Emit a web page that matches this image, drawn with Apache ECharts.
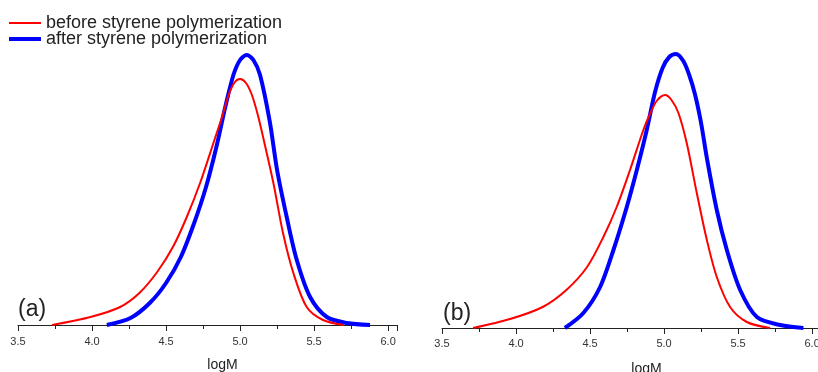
<!DOCTYPE html>
<html>
<head>
<meta charset="utf-8">
<script src="https://cdn.jsdelivr.net/npm/echarts@6/dist/echarts.min.js"></script>
<style>
  html, body { margin: 0; padding: 0; background: #fff; }
  #chart { width: 818px; height: 372px; }
</style>
</head>
<body>
<div id="chart"></div>
<script>
// panel (a)
const aLogMBefore = [3.73, 3.99, 4.19, 4.32, 4.44, 4.55, 4.64, 4.73, 4.82, 4.88, 4.925, 4.965, 5.0, 5.04, 5.08, 5.12, 5.16, 5.225, 5.29, 5.36, 5.45, 5.56, 5.70];
const aBefore = [0, 8, 18, 32, 53, 79, 108, 142, 182, 209, 231, 243, 246, 242, 230, 210, 185, 142, 92, 52, 18, 5, 0];
const aLogMAfter = [4.10, 4.26, 4.39, 4.50, 4.60, 4.69, 4.77, 4.84, 4.90, 4.955, 5.0, 5.045, 5.09, 5.135, 5.20, 5.25, 5.315, 5.383, 5.473, 5.586, 5.721, 5.878];
const aAfter = [0, 7, 22, 42, 68, 102, 138, 178, 218, 250, 265, 270, 265, 250, 204, 155, 108, 65, 28, 8, 2, 0];

// panel (b)
const bLogMBefore = [3.71, 3.96, 4.18, 4.34, 4.48, 4.59, 4.68, 4.77, 4.86, 4.905, 4.95, 5.007, 5.05, 5.097, 5.153, 5.221, 5.289, 5.356, 5.446, 5.559, 5.716];
const bBefore = [0, 9, 21, 38, 61, 91, 121, 158, 198, 214, 227, 233, 228, 215, 185, 135, 88, 51, 21, 6, 0];
const bLogMAfter = [4.33, 4.455, 4.568, 4.658, 4.748, 4.816, 4.883, 4.939, 4.99, 5.035, 5.081, 5.13, 5.17, 5.21, 5.25, 5.289, 5.356, 5.424, 5.514, 5.627, 5.784, 5.941];
const bAfter = [0, 15, 41, 78, 121, 158, 198, 236, 260, 271, 274, 267, 253, 233, 205, 170, 118, 78, 38, 11, 3, 0];

const seriesNames = ["before styrene polymerization", "after styrene polymerization"];
const panelLabels = ["(a)", "(b)"];
const axisName = "logM";

const zip = (xs, ys) => xs.map((x, i) => [x, ys[i]]);

const chart = echarts.init(document.getElementById("chart"));

const xAxisCommon = {
  type: "value",
  min: 3.5,
  max: 6.06,
  interval: 0.5,
  name: axisName,
  nameLocation: "middle",
  nameGap: 33,
  nameTextStyle: { fontSize: 14, color: "#222", fontFamily: "Liberation Sans", padding: [0, 0, 0, 30] },
  axisLine: { lineStyle: { color: "#222", width: 1 } },
  axisTick: { show: true, inside: false, length: 6, lineStyle: { color: "#222" } },
  minorTick: { show: true, splitNumber: 2, length: 4, lineStyle: { color: "#222" } },
  axisLabel: {
    fontSize: 11,
    color: "#333",
    fontFamily: "Liberation Sans",
    margin: 11,
    formatter: (v) => (v <= 6.0 ? v.toFixed(1) : ""),
  },
  splitLine: { show: false },
};

const yAxisCommon = {
  type: "value",
  min: 0,
  max: 300,
  show: false,
};

const lineSeries = (name, data, color, width, idx) => ({
  name: name,
  type: "line",
  xAxisIndex: idx,
  yAxisIndex: idx,
  data: data,
  smooth: 0.3,
  showSymbol: false,
  symbol: "none",
  lineStyle: { color: color, width: width },
  itemStyle: { color: color },
  z: width > 3 ? 2 : 3,
});

const legendText = { fontSize: 18, color: "#222", fontFamily: "Liberation Sans" };
const panelText = { fontSize: 23, fontWeight: "normal", color: "#222", fontFamily: "Liberation Sans" };

const option = {
  animation: false,
  backgroundColor: "#fff",
  legend: [
    { data: [seriesNames[0]], left: 9, top: 14, padding: 0, icon: "rect", itemWidth: 32, itemHeight: 2, textStyle: legendText },
    { data: [seriesNames[1]], left: 9, top: 30, padding: 0, icon: "rect", itemWidth: 32, itemHeight: 4, textStyle: legendText },
  ],
  title: [
    { text: panelLabels[0], left: 18, top: 298, padding: 0, textStyle: panelText },
    { text: panelLabels[1], left: 443, top: 302, padding: 0, textStyle: panelText },
  ],
  grid: [
    { left: 18, width: 379, top: 25, height: 300, outerBoundsMode: "none", containLabel: false },
    { left: 442, width: 379, top: 28, height: 300, outerBoundsMode: "none", containLabel: false },
  ],
  xAxis: [
    Object.assign({}, xAxisCommon, { gridIndex: 0 }),
    Object.assign({}, xAxisCommon, { gridIndex: 1, axisLabel: Object.assign({}, xAxisCommon.axisLabel, { margin: 10 }), nameGap: 34 }),
  ],
  yAxis: [
    Object.assign({}, yAxisCommon, { gridIndex: 0 }),
    Object.assign({}, yAxisCommon, { gridIndex: 1 }),
  ],
  series: [
    lineSeries(seriesNames[0], zip(aLogMBefore, aBefore), "#ff0000", 2, 0),
    lineSeries(seriesNames[1], zip(aLogMAfter, aAfter), "#0000ff", 4, 0),
    lineSeries(seriesNames[0], zip(bLogMBefore, bBefore), "#ff0000", 2, 1),
    lineSeries(seriesNames[1], zip(bLogMAfter, bAfter), "#0000ff", 4, 1),
  ],
};

chart.setOption(option);
</script>
</body>
</html>
